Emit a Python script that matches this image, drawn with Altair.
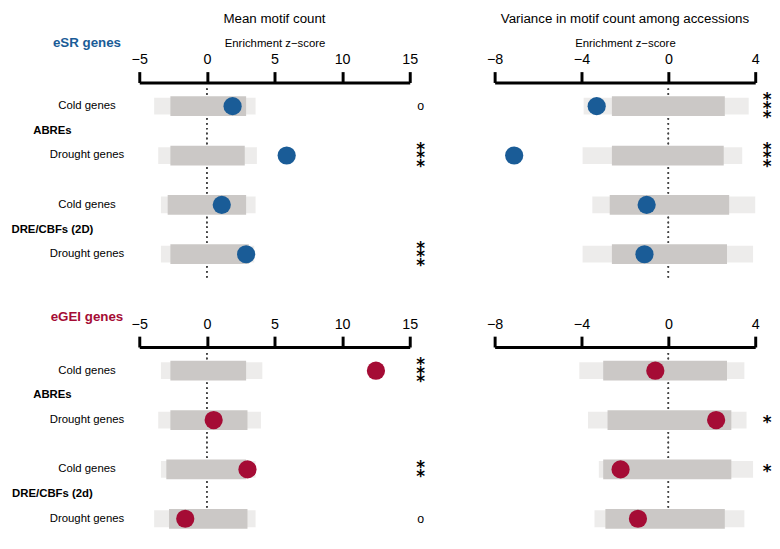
import altair as alt
import pandas as pd

# ---------------- data ----------------
row_labels = ["Cold genes", "Drought genes", "Cold genes", "Drought genes"]
row_index = [1, 2, 3, 4]
group_pos = [1.5, 3.5]
groups_esr = ["ABREs", "DRE/CBFs (2D)"]
groups_egei = ["ABREs", "DRE/CBFs (2d)"]

mean_ticks = [-5, 0, 5, 10, 15]
var_ticks = [-8, -4, 0, 4]

# observed enrichment z-scores
esr_mean = [1.9, 5.9, 1.1, 2.9]
esr_var = [-3.3, -7.1, -1.0, -1.1]
egei_mean = [12.5, 0.5, 3.0, -1.6]
egei_var = [-0.6, 2.2, -2.2, -1.4]

# significance marks
esr_mean_sig = ["o", "***", "", "***"]
esr_var_sig = ["***", "***", "", ""]
egei_mean_sig = ["***", "", "**", "o"]
egei_var_sig = ["", "*", "*", ""]

# null distributions: sparse tails and dense core extent per row
esr_mean_tail_lo = [-3.9, -3.6, -3.4, -3.4]
esr_mean_core_lo = [-2.7, -2.7, -2.9, -2.7]
esr_mean_core_hi = [2.9, 2.8, 2.9, 3.1]
esr_mean_tail_hi = [3.6, 3.7, 3.6, 3.5]

esr_var_tail_lo = [-3.9, -3.95, -3.5, -3.95]
esr_var_core_lo = [-2.6, -2.6, -2.7, -2.6]
esr_var_core_hi = [2.6, 2.55, 2.8, 2.7]
esr_var_tail_hi = [3.7, 3.4, 4.0, 3.9]

egei_mean_tail_lo = [-3.4, -3.6, -3.4, -3.9]
egei_mean_core_lo = [-2.7, -2.7, -3.0, -2.8]
egei_mean_core_hi = [2.9, 3.0, 2.9, 3.0]
egei_mean_tail_hi = [4.1, 4.0, 3.6, 3.6]

egei_var_tail_lo = [-4.1, -3.7, -3.2, -3.4]
egei_var_core_lo = [-3.0, -2.8, -3.0, -2.9]
egei_var_core_hi = [2.7, 2.9, 2.9, 2.6]
egei_var_tail_hi = [3.5, 3.6, 3.9, 3.5]

# ---------------- style / layout ----------------
FONT = "Liberation Sans"
BLUE = "#1a5c97"
RED = "#a50c35"
GRAY = "#cbc8c6"
ROW_OFF = 24
ROW_STEP = 50
TOP_H = 200
BOT_H = 186
LAB_W = 130
MEAN_W = 274
GAP_W = 86
VAR_W = 264
END_W = 14
STAR_LH = 8.7


def yscale(h):
    return alt.Scale(domain=[1 - ROW_OFF / ROW_STEP, 1 + (h - ROW_OFF) / ROW_STEP],
                     reverse=True, nice=False, zero=False)


def make_axis(ticks, title):
    return alt.Axis(orient="top", values=ticks, title=title, grid=False,
                    labelFontSize=14.5, labelFont=FONT, labelColor="black",
                    labelPadding=5, labelFlush=False, labelOverlap=False,
                    tickSize=11, tickWidth=3, tickColor="black",
                    domainWidth=3, domainColor="black",
                    titleFontSize=11.5, titleFont=FONT, titleFontWeight="normal",
                    titleColor="black", titlePadding=3)


def panel(vals, tlo, clo, chi, thi, color, domain, ticks, width, height,
          title=None, axis_title=None):
    df = pd.DataFrame({"r": row_index, "v": vals, "tlo": tlo, "clo": clo,
                       "chi": chi, "thi": thi})
    xs = alt.Scale(domain=domain, nice=False, zero=False)
    ys = yscale(height)
    ax = make_axis(ticks, axis_title)
    base = alt.Chart(df)
    dotted = base.mark_rule(color="#444444", strokeDash=[1.5, 3.5], strokeWidth=1.4).encode(
        x=alt.X(datum=0, type="quantitative", scale=xs, axis=ax),
        y=alt.value(6), y2=alt.value(height))
    tails = base.mark_rule(color=GRAY, strokeWidth=17, opacity=0.35).encode(
        x=alt.X("tlo:Q", scale=xs, axis=ax), x2="thi:Q",
        y=alt.Y("r:Q", scale=ys, axis=None))
    core = base.mark_rule(color=GRAY, strokeWidth=20).encode(
        x=alt.X("clo:Q", scale=xs, axis=ax), x2="chi:Q",
        y=alt.Y("r:Q", scale=ys, axis=None))
    pts = base.mark_circle(size=340, color=color, opacity=1).encode(
        x=alt.X("v:Q", scale=xs, axis=ax),
        y=alt.Y("r:Q", scale=ys, axis=None))
    ch = alt.layer(dotted, tails, core, pts).properties(width=width, height=height)
    if title:
        ch = ch.properties(title=alt.TitleParams(text=title, fontSize=13.5, font=FONT,
                                                 fontWeight="normal", color="black",
                                                 offset=13))
    return ch


def label_col(groups, header, header_color, header_y, height):
    ys = yscale(height)
    rows = pd.DataFrame({"r": row_index, "lab": row_labels})
    grp = pd.DataFrame({"r": group_pos, "lab": groups})
    hdr = pd.DataFrame({"lab": [header]})
    t1 = alt.Chart(rows).mark_text(align="center", baseline="middle", fontSize=11.5,
                                   font=FONT, color="black").encode(
        x=alt.value(77), y=alt.Y("r:Q", scale=ys, axis=None), text="lab:N")
    t2 = alt.Chart(grp).mark_text(align="center", baseline="middle", fontSize=11.5,
                                  font=FONT, fontWeight="bold", color="black").encode(
        x=alt.value(42), y=alt.Y("r:Q", scale=ys, axis=None), text="lab:N")
    t3 = alt.Chart(hdr).mark_text(align="center", baseline="middle", fontSize=13.5,
                                  font=FONT, fontWeight="bold", color=header_color).encode(
        x=alt.value(77), y=alt.value(header_y), text="lab:N")
    return alt.layer(t1, t2, t3).properties(width=LAB_W, height=height)


def star_col(sigs, width, height, xpos):
    ys = yscale(height)
    layers = []
    for n in (1, 2, 3):
        df = pd.DataFrame({
            "r": [r for r, s in zip(row_index, sigs) if s.startswith("*") and len(s) == n],
            "s": ["\n".join(s) for s in sigs if s.startswith("*") and len(s) == n],
        })
        layers.append(alt.Chart(df).mark_text(
            font="DejaVu Sans", fontWeight="bold", fontSize=17, lineBreak="\n",
            lineHeight=STAR_LH, align="center", baseline="middle", color="black",
            dy=3 - (n - 1) * STAR_LH / 2).encode(
            x=alt.value(xpos), y=alt.Y("r:Q", scale=ys, axis=None), text="s:N"))
    odf = pd.DataFrame({"r": [r for r, s in zip(row_index, sigs) if s == "o"],
                        "o": [s for s in sigs if s == "o"]})
    layers.append(alt.Chart(odf).mark_text(font=FONT, fontSize=12.5, align="center",
                                           baseline="middle", color="black").encode(
        x=alt.value(xpos), y=alt.Y("r:Q", scale=ys, axis=None), text="o:N"))
    return alt.layer(*layers).properties(width=width, height=height)


AX_TITLE = "Enrichment z\u2212score"

panels = [
    label_col(groups_esr, "eSR genes", BLUE, -40, TOP_H),
    panel(esr_mean, esr_mean_tail_lo, esr_mean_core_lo, esr_mean_core_hi, esr_mean_tail_hi,
          BLUE, [-5, 15], mean_ticks, MEAN_W, TOP_H, "Mean motif count", AX_TITLE),
    star_col(esr_mean_sig, GAP_W, TOP_H, 11),
    panel(esr_var, esr_var_tail_lo, esr_var_core_lo, esr_var_core_hi, esr_var_tail_hi,
          BLUE, [-8, 4], var_ticks, VAR_W, TOP_H,
          "Variance in motif count among accessions", AX_TITLE),
    star_col(esr_var_sig, END_W, TOP_H, 12),
    label_col(groups_egei, "eGEI genes", RED, -30, BOT_H),
    panel(egei_mean, egei_mean_tail_lo, egei_mean_core_lo, egei_mean_core_hi, egei_mean_tail_hi,
          RED, [-5, 15], mean_ticks, MEAN_W, BOT_H),
    star_col(egei_mean_sig, GAP_W, BOT_H, 11),
    panel(egei_var, egei_var_tail_lo, egei_var_core_lo, egei_var_core_hi, egei_var_tail_hi,
          RED, [-8, 4], var_ticks, VAR_W, BOT_H),
    star_col(egei_var_sig, END_W, BOT_H, 12),
]

chart = alt.concat(*panels, columns=5, spacing={"row": 68, "column": 0},
                   bounds="flush").properties(
    padding={"left": 3, "top": 0, "right": 0, "bottom": 0}, background="white"
).configure_view(stroke=None)

chart.save("out.html", embed_options={"renderer": "svg", "actions": False})
